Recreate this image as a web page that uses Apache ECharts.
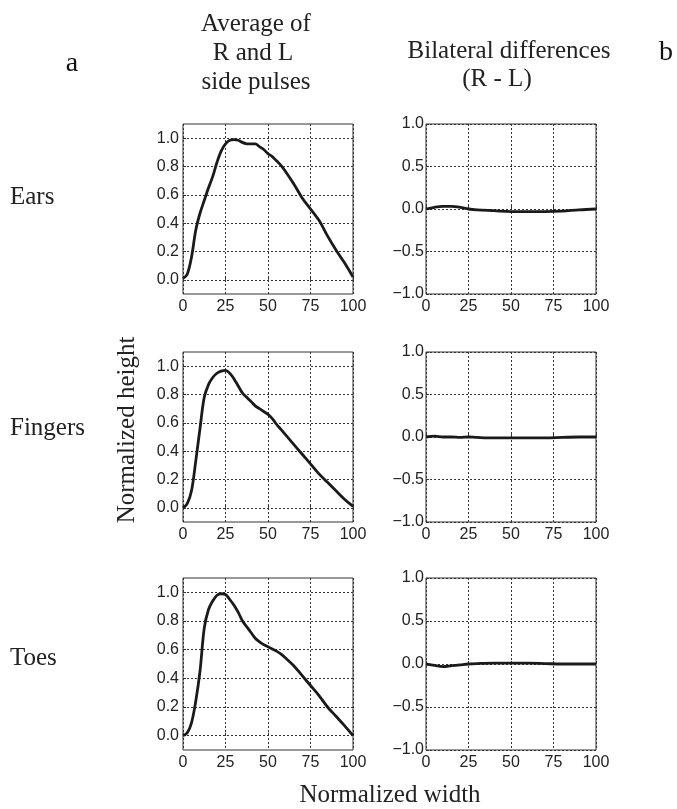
<!DOCTYPE html>
<html><head><meta charset="utf-8">
<script src="https://cdn.jsdelivr.net/npm/echarts@6/dist/echarts.min.js"></script>
<style>html,body{margin:0;padding:0;background:#fff}#c{width:677px;height:809px}</style>
</head><body><div id="c"></div>
<script>
// Normalized width positions (left panels)
const xsAvg = [0,2.5,5,7.5,10,12.5,15,17.5,20,22.5,25,27.5,30,32.5,35,37.5,40,42.5,45,47.5,50,52.5,55,57.5,60,65,70,75,80,85,90,95,100];
const earsAvg = [0.01,0.04,0.16,0.35,0.47,0.56,0.65,0.73,0.83,0.91,0.96,0.985,0.99,0.985,0.97,0.96,0.96,0.96,0.94,0.92,0.89,0.87,0.84,0.81,0.77,0.68,0.58,0.50,0.42,0.31,0.21,0.12,0.02];
const fingersAvg = [0.0,0.03,0.12,0.33,0.56,0.78,0.87,0.92,0.95,0.965,0.97,0.95,0.91,0.86,0.81,0.78,0.75,0.72,0.70,0.68,0.66,0.63,0.59,0.555,0.52,0.45,0.38,0.31,0.24,0.18,0.12,0.06,0.01];
const toesAvg = [0.0,0.02,0.09,0.24,0.45,0.75,0.88,0.94,0.98,0.99,0.985,0.95,0.91,0.86,0.80,0.76,0.72,0.68,0.655,0.635,0.62,0.605,0.59,0.57,0.545,0.49,0.42,0.35,0.28,0.20,0.135,0.07,0.0];
// Bilateral differences (R - L)
const xsDiff = [0,5,10,15,20,25,30,40,50,60,70,80,90,100];
const earsDiff = [0,0.02,0.03,0.03,0.02,0.0,-0.01,-0.02,-0.03,-0.03,-0.03,-0.025,-0.01,0.0];
const fingersDiff = [0,0.01,0.0,0.0,-0.005,0,-0.005,-0.01,-0.01,-0.01,-0.01,-0.005,0,0.0];
const toesDiff = [0,-0.015,-0.03,-0.02,-0.01,0,0.005,0.01,0.01,0.01,0.005,0,0,0.0];
// Tick values
const xTicks = [0,25,50,75,100];
const avgTicks = [0,0.2,0.4,0.6,0.8,1.0];
const diffTicks = [-1,-0.5,0,0.5,1];
const rowLabels = ['Ears','Fingers','Toes'];

const chart = echarts.init(document.getElementById('c'));
const rowTops = [124, 352, 578];
const rowH = [170, 170, 172];
const colLeft = [183, 426];
const W = 170;
const dotted = {type:[2,2], color:'#333', width:1};
const tickFont = {fontFamily:'Liberation Sans, Arial, sans-serif', fontSize:16, color:'#222'};

const grids=[], xAxes=[], yAxes=[], series=[];
const avgData = [earsAvg, fingersAvg, toesAvg];
const diffData = [earsDiff, fingersDiff, toesDiff];
let gi = 0;
for (let r=0;r<3;r++){
  for (let c=0;c<2;c++){
    grids.push({left:colLeft[c], top:rowTops[r], width:W, height:rowH[r], show:true, borderColor:'#333', borderWidth:1, backgroundColor:'transparent'});
    xAxes.push({type:'value', gridIndex:gi, min:0, max:100, interval:25,
      axisLine:{show:false}, axisTick:{show:true, inside:true, length:3, lineStyle:{color:'#333'}},
      axisLabel:Object.assign({margin:5, showMinLabel:true, showMaxLabel:true}, tickFont),
      splitLine:{show:true, lineStyle:dotted}});
    if (c===0){
      yAxes.push({type:'value', gridIndex:gi, min:-0.1, max:1.1,
        axisLine:{show:false},
        axisTick:{show:true, inside:true, length:3, customValues:avgTicks, lineStyle:{color:'#333'}},
        axisLabel:Object.assign({margin:4, customValues:avgTicks, formatter:v=>v.toFixed(1)}, tickFont),
        splitLine:{show:true, lineStyle:dotted}});
    } else {
      yAxes.push({type:'value', gridIndex:gi, min:-1, max:1, interval:0.5,
        axisLine:{show:false},
        axisTick:{show:true, inside:true, length:3, lineStyle:{color:'#333'}},
        axisLabel:Object.assign({margin:2, formatter:v=>v.toFixed(1).replace('-','\u2212')}, tickFont),
        splitLine:{show:true, lineStyle:dotted}});
    }
    const xs = c===0 ? xsAvg : xsDiff;
    const ys = c===0 ? avgData[r] : diffData[r];
    series.push({type:'line', xAxisIndex:gi, yAxisIndex:gi, data:xs.map((x,i)=>[x,ys[i]]),
      showSymbol:false, symbol:'none', smooth:0.35, lineStyle:{color:'#1a1a1a', width:2.8}, z:5});
    gi++;
  }
}

const serif = 'Liberation Serif, Times New Roman, serif';
const F = '25px '+serif;
const graphics = [
  {type:'text', x:72, y:64, style:{text:'a', font:'28px '+serif, fill:'#111', align:'center', verticalAlign:'middle'}},
  {type:'text', x:666, y:53, style:{text:'b', font:'28px '+serif, fill:'#111', align:'center', verticalAlign:'middle'}},
  {type:'text', x:256, y:24, style:{text:'Average of', font:F, fill:'#222', align:'center', verticalAlign:'middle'}},
  {type:'text', x:253, y:53, style:{text:'R and L', font:F, fill:'#222', align:'center', verticalAlign:'middle'}},
  {type:'text', x:256, y:82, style:{text:'side pulses', font:F, fill:'#222', align:'center', verticalAlign:'middle'}},
  {type:'text', x:509, y:51, style:{text:'Bilateral differences', font:F, fill:'#222', align:'center', verticalAlign:'middle'}},
  {type:'text', x:497, y:79, style:{text:'(R - L)', font:F, fill:'#222', align:'center', verticalAlign:'middle'}},
  {type:'text', x:10, y:197, style:{text:rowLabels[0], font:F, fill:'#222', align:'left', verticalAlign:'middle'}},
  {type:'text', x:10, y:428, style:{text:rowLabels[1], font:F, fill:'#222', align:'left', verticalAlign:'middle'}},
  {type:'text', x:10, y:658, style:{text:rowLabels[2], font:F, fill:'#222', align:'left', verticalAlign:'middle'}},
  {type:'text', x:127, y:430, rotation:Math.PI/2, style:{text:'Normalized height', font:F, fill:'#222', align:'center', verticalAlign:'middle'}},
  {type:'text', x:390, y:795, style:{text:'Normalized width', font:F, fill:'#222', align:'center', verticalAlign:'middle'}}
];

chart.setOption({animation:false, backgroundColor:'#fff', grid:grids, xAxis:xAxes, yAxis:yAxes, series:series, graphic:graphics});
</script></body></html>
